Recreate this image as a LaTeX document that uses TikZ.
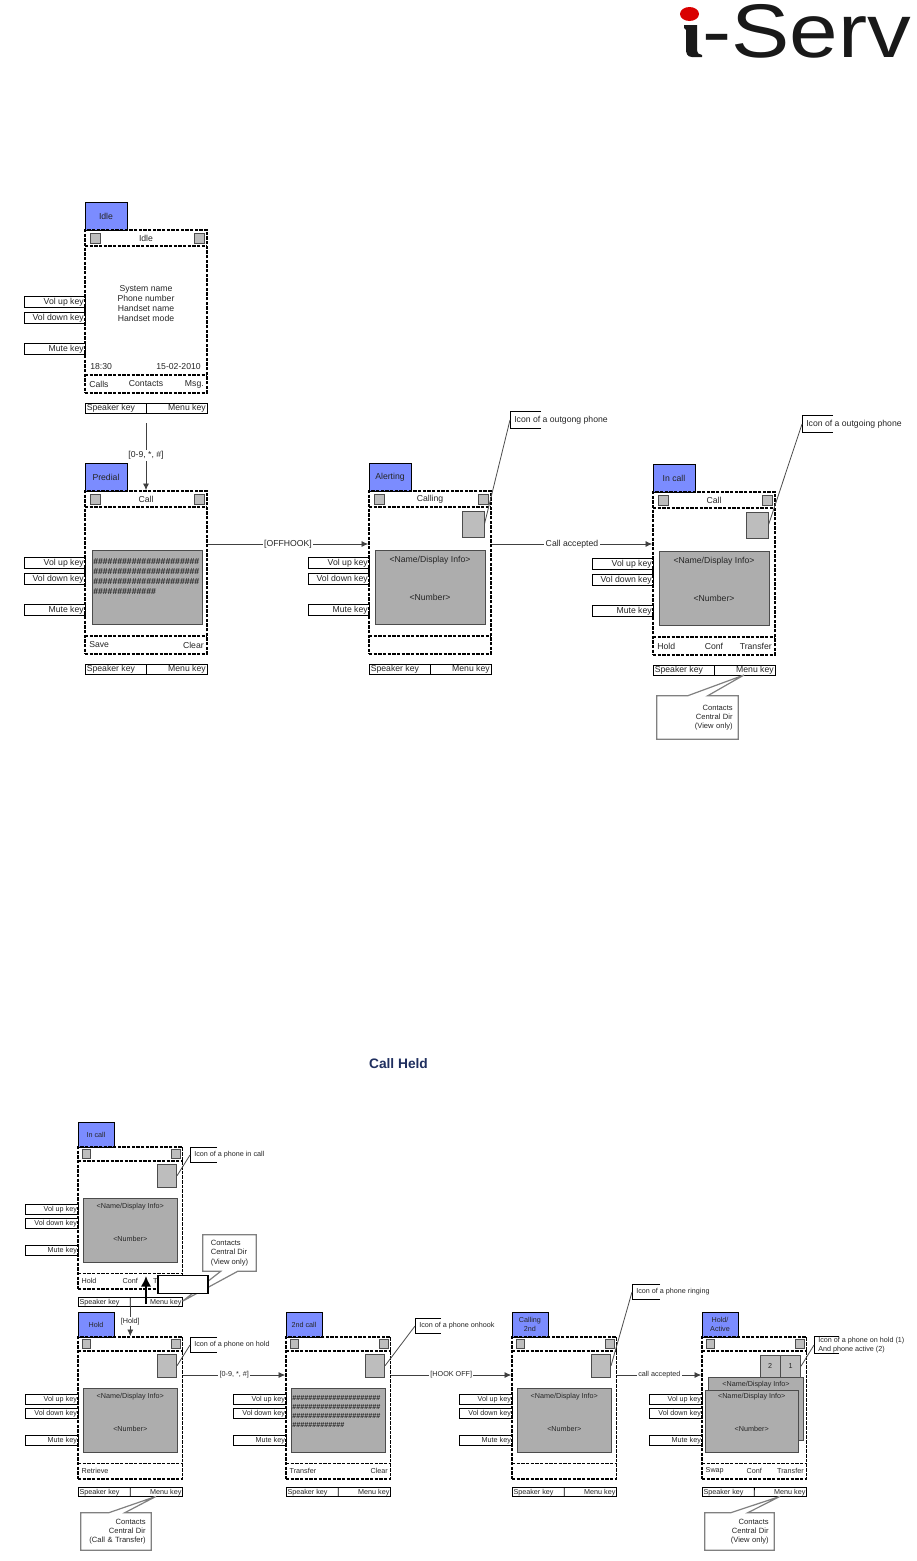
\documentclass[tikz,border=0pt]{standalone}
\usepackage{fontspec}
\setmainfont{Liberation Sans}
\usepackage{tikz}
\usetikzlibrary{shapes,fit,calc,arrows.meta}

\definecolor{tabblue}{HTML}{7B8CFF}
\definecolor{panelgray}{HTML}{ADADAD}
\definecolor{icongray}{HTML}{BDBDBD}
\definecolor{titlenavy}{HTML}{1F2F5F}

\tikzset{
    bigphone/.style={nodes={font=\fontsize{6.5}{7.6}\selectfont}},
    smallphone/.style={xscale=0.857, yscale=0.871, nodes={font=\fontsize{5.4}{6.8}\selectfont}},
    screenline/.style={line width=1.2pt, dash pattern=on 2.6pt off 0.9pt},
    keyline/.style={line width=0.7pt},
    tabbox/.style={draw, line width=0.7pt, fill=tabblue},
    panelbox/.style={draw=black!70, line width=0.7pt, fill=panelgray, inner sep=0pt},
    iconbox/.style={draw=black!70, line width=0.7pt, fill=icongray, inner sep=0pt},
    label/.style={inner sep=0pt, text=black!85},
    wire/.style={->, line width=0.6pt, black!75},
    wirelabel/.style={fill=white, inner sep=1pt, text=black!85, font=\fontsize{6.5}{7.6}\selectfont},
    smallwirelabel/.style={wirelabel, font=\fontsize{5.4}{6.8}\selectfont},
    leader/.style={line width=0.6pt, black!70},
    bignote/.style={anchor=west, inner xsep=3pt, inner ysep=0pt, minimum height=12.5pt, font=\fontsize{6.5}{7.6}\selectfont, text=black!85},
    smallnote/.style={bignote, minimum height=10.5pt, align=left, font=\fontsize{5.4}{6.8}\selectfont},
    calloutline/.style={draw=black!50, line width=0.9pt, fill=white},
    callouttext/.style={inner sep=4pt, text=black!85, font=\fontsize{5.7}{6.9}\selectfont},
}

% one phone: style, name, position, tab, title, soft keys, what is on its screen
\newcommand{\phone}[9][bigphone]{
    \begin{scope}[shift={(#3)}, #1]
        % Tab
        \node[tabbox, fit={(0,-28)(42,0)}, inner sep=0pt] (#2-tab) {};
        \node[label, align=center] (#2-tabtext) at (#2-tab.center) {#4};
        % Side keys
        \foreach \keyname/\keytext/\keytop in {volup/Vol up key/66, voldown/Vol down key/82, mute/Mute key/113} {
            \draw[keyline] (-61,\keytop) rectangle (0,\keytop+11);
            \node[label, anchor=east] (#2-\keyname) at (-1,\keytop+5.8) {\keytext};
        }
        % Frame and its two bars
        \node[screenline, draw, fit={(0,0)(122,163)}, inner sep=0pt] (#2) {};
        \draw[screenline] (0,16) -- (122,16);
        \draw[screenline] (0,145) -- (122,145);
        % Status icons
        \draw[iconbox] (5,3) rectangle (15,13);
        \draw[iconbox] (109,3) rectangle (119,13);
        \node[label] (#2-title) at (61,8) {#5};
        % Soft keys
        \node[label, anchor=west] (#2-softleft) at (4,154) {#6};
        \node[label] (#2-softmid) at (61,154) {#7};
        \node[label, anchor=east] (#2-softright) at (119,154) {#8};
        % Speaker and menu keys
        \draw[keyline] (0,173) rectangle (122,183);
        \coordinate (#2-split) at (61,183);
        \draw[keyline] (61,173) -- (#2-split);
        \coordinate (#2-menu) at (91,183);
        \coordinate (#2-keyend) at (122,177);
        \node[label, anchor=west] (#2-speaker) at (1.5,178.3) {Speaker key};
        \node[label, anchor=east] (#2-menukey) at (121,178.3) {Menu key};
        % Screen
        #9
    \end{scope}
}

\newcommand{\infopanel}[1]{
    \node[iconbox, fit={(93,20)(115,46)}] (#1-icon) {};
    \node[panelbox, fit={(6,59)(116,133)}] (#1-panel) {};
    \node[label] (#1-name) at (61,69) {<Name/Display Info>};
    \node[label] (#1-number) at (61,106) {<Number>};
}
\newcommand{\hashrow}{\#\#\#\#\#\#\#\#\#\#\#\#\#\#\#\#\#\#\#\#\#\#}

% label with a box open on its right
\newcommand{\iconnote}[5][bignote]{
    \node[#1] (#2) at (#3) {#5};
    \draw[keyline] (#2.north west) ++(#4,0) -- (#2.north west) -- (#2.south west) -- ++(#4,0);
}

% grey callout, its wedge on the top edge: name, centre, width, height, text, wedge offsets, tip
\newcommand{\contactbox}[8]{
    \node[minimum height={#4*0.75pt}, minimum width={#3*0.75pt}, inner sep=0pt] (#1-outline) at (#2) {};
    \path[calloutline] (#1-outline.north west) -- ($(#1-outline.north west)+(#6,0)$) -- (#8) -- ($(#1-outline.north west)+(#7,0)$)
        -- (#1-outline.north east) -- (#1-outline.south east) -- (#1-outline.south west) -- cycle;
    \node[callouttext, text width={#3*0.75pt-8pt}, align=right] (#1) at (#2) {#5};
}

\begin{document}
\begin{tikzpicture}[x=0.75pt, y=-0.75pt, >={Latex[length=5pt,width=4.5pt]}]
    \useasboundingbox (0,0) rectangle (917,1561);

    % Logo
    \fill[red!85!black] (689.5,14) ellipse (9.5 and 7);
    \fill[black!90] (684,25) -- (697,25) -- (697,49) .. controls (697,53) and (699,55) .. (702,55) -- (702,57) -- (692,57) .. controls (687,57) and (686,53) .. (686,49) -- (686,30) -- (684,28) -- cycle;
    \node[anchor=base west, inner sep=0pt, xscale=1.15, font=\fontsize{57}{57}\selectfont, text=black!90] (logo) at (702,57) {-Serv};

    % Phones of the first flow
    \phone{idle}{85,230}{Idle}{Idle}{Calls}{Contacts}{Msg.}{
        \node[label, align=center] (idle-info) at (61,73.5) {System name\\Phone number\\Handset name\\Handset mode};
        \node[label, anchor=west] (idle-time) at (5,137) {18:30};
        \node[label, anchor=east] (idle-date) at (116,137) {15-02-2010};
    }
    \phone{predial}{85,491}{Predial}{Call}{Save}{}{Clear}{
        \node[panelbox, fit={(7,59)(117,133)}] (predial-panel) {};
        \node[label, anchor=north west, align=left, font=\bfseries\fontsize{6.5}{7.6}\selectfont] (predial-hash) at (8,67) {\hashrow\\\hashrow\\\hashrow\\\#\#\#\#\#\#\#\#\#\#\#\#\#};
    }
    \phone{alerting}{369,491}{Alerting}{Calling}{}{}{}{\infopanel{alerting}}
    \phone{incallone}{653,492}{In call}{Call}{Hold}{Conf}{Transfer\hspace{3pt}}{\infopanel{incallone}}

    % Connectors of the first flow
    \draw[wire, shorten <=7.5pt] (idle-split) -- (idle-split |- predial.north) node[wirelabel, pos=0.55] (digitsone) {[0-9, *, \#]};
    \draw[wire] (predial.east |- 0,544) -- (alerting.west |- 0,544) node[wirelabel, midway] (offhook) {[OFFHOOK]};
    \draw[wire] (alerting.east |- 0,544) -- (incallone.west |- 0,544) node[wirelabel, midway] (acceptedone) {Call accepted};

    % Icon labels of the first flow
    \iconnote{outgongnote}{510,420}{31}{Icon of a outgong phone}
    \draw[leader] (outgongnote.west) -- (alerting-icon.east);
    \iconnote{outgoingnote}{802,424}{31}{Icon of a outgoing phone}
    \draw[leader] (outgoingnote.west) -- (incallone-icon.east);

    \contactbox{incallonemenu}{697.5,717.5}{81}{43}{Contacts\\Central Dir\\(View only)}{31}{51}{incallone-menu}

    % Title of the second flow
    \node[font=\bfseries\fontsize{10.3}{12}\selectfont, text=titlenavy, inner sep=0pt] (heldtitle) at (398.5,1064) {Call Held};

    % Phones of the second flow
    \phone[smallphone]{incalltwo}{78,1147}{In call}{}{Hold}{Conf}{Transfer}{\infopanel{incalltwo}}
    \phone[smallphone]{hold}{78,1337}{Hold}{}{Retrieve}{}{}{\infopanel{hold}}
    \phone[smallphone]{second}{286,1337}{2nd call}{}{Transfer}{}{Clear}{
        \node[iconbox, fit={(93,20)(115,46)}] (second-icon) {};
        \node[panelbox, fit={(6,59)(116,133)}] (second-panel) {};
        \node[label, anchor=north west, align=left, font=\bfseries\fontsize{5.4}{6.8}\selectfont] (second-hash) at (7,67) {\hashrow\\\hashrow\\\hashrow\\\#\#\#\#\#\#\#\#\#\#\#\#\#};
    }
    \phone[smallphone]{calling}{512,1337}{Calling\\2nd}{}{}{}{}{\infopanel{calling}}
    \phone[smallphone]{holdactive}{702,1337}{Hold/\\Active}{}{Swap}{Conf}{Transfer}{
        % Two icons and two panels, one over the other
        \node[iconbox, fit={(68,21)(91,46)}] (holdactive-icontwo) {};
        \node[label] (holdactive-two) at (holdactive-icontwo.center) {2};
        \node[iconbox, fit={(92,21)(115,46)}] (holdactive-icon) {};
        \node[label] (holdactive-one) at (holdactive-icon.center) {1};
        \node[panelbox, fit={(8,46)(118,119)}] (holdactive-back) {};
        \node[label] (holdactive-backname) at (63,55) {<Name/Display Info>};
        \node[panelbox, fit={(3.5,61)(113,133)}] (holdactive-panel) {};
        \node[label] (holdactive-name) at (58,69) {<Name/Display Info>};
        \node[label] (holdactive-number) at (58,106) {<Number>};
    }

    % Connectors of the second flow
    \draw[wire] (incalltwo-split) -- (incalltwo-split |- hold.north) node[smallwirelabel, midway] (holdlabel) {[Hold]};
    \draw[wire] (hold.east |- 0,1375) -- (second.west |- 0,1375) node[smallwirelabel, midway] (digitstwo) {[0-9, *, \#]};
    \draw[wire] (second.east |- 0,1375) -- (calling.west |- 0,1375) node[smallwirelabel, midway] (hookoff) {[HOOK OFF]};
    \draw[wire] (calling.east |- 0,1375) -- (holdactive.west |- 0,1375) node[smallwirelabel, midway] (acceptedtwo) {call accepted};

    % Icon labels of the second flow
    \iconnote[smallnote]{incallnote}{190,1155}{27}{Icon of a phone in call}
    \draw[leader] (incallnote.west) -- (incalltwo-icon.east);
    \iconnote[smallnote]{holdnote}{190,1345}{27}{Icon of a phone on hold}
    \draw[leader] (holdnote.west) -- (hold-icon.east);
    \iconnote[smallnote]{onhooknote}{415,1326}{26}{Icon of a phone onhook}
    \draw[leader] (onhooknote.west) -- (second-icon.east);
    \iconnote[smallnote]{ringingnote}{632,1292}{28}{Icon of a phone ringing}
    \draw[leader] (ringingnote.west) -- (calling-icon.east);
    \iconnote[smallnote]{holdactivenote}{814,1345}{25}{Icon of a phone on hold (1)\\And phone active (2)}
    \draw[leader] (holdactivenote.west) -- (holdactive-icon.east);

    % Grey callouts
    \node[minimum height=27pt, minimum width=39.75pt, inner sep=0pt] (incalltwomenu-outline) at (229.5,1253) {};
    \path[calloutline] (incalltwomenu-outline.south west) -- ($(incalltwomenu-outline.south west)+(18,0)$) -- (incalltwo-keyend) -- ($(incalltwomenu-outline.south west)+(35,0)$)
        -- (incalltwomenu-outline.south east) -- (incalltwomenu-outline.north east) -- (incalltwomenu-outline.north west) -- cycle;
    \node[callouttext, align=left] (incalltwomenu) at (229.5,1253) {Contacts\\Central Dir\\(View only)};
    \contactbox{holdmenu}{116,1531.5}{70}{37}{Contacts\\Central Dir\\(Call \& Transfer)}{28}{44}{hold-menu}
    \contactbox{holdactivemenu}{739.5,1531.5}{69}{37}{Contacts\\Central Dir\\(View only)}{26}{43}{holdactive-menu}

    % Blank box and thick arrow over the in call phone
    \node[draw, fill=white, line width=0.8pt, inner sep=0pt, minimum width=37.5pt, minimum height=14pt] (blankbox) at (183,1284.5) {};
    \coordinate (thickstart) at (146,1304);
    \coordinate (thickend) at (146,1276);
    \draw[-{Latex[length=8pt,width=8pt]}, line width=2pt] (thickstart) -- (thickend);
\end{tikzpicture}
\end{document}
